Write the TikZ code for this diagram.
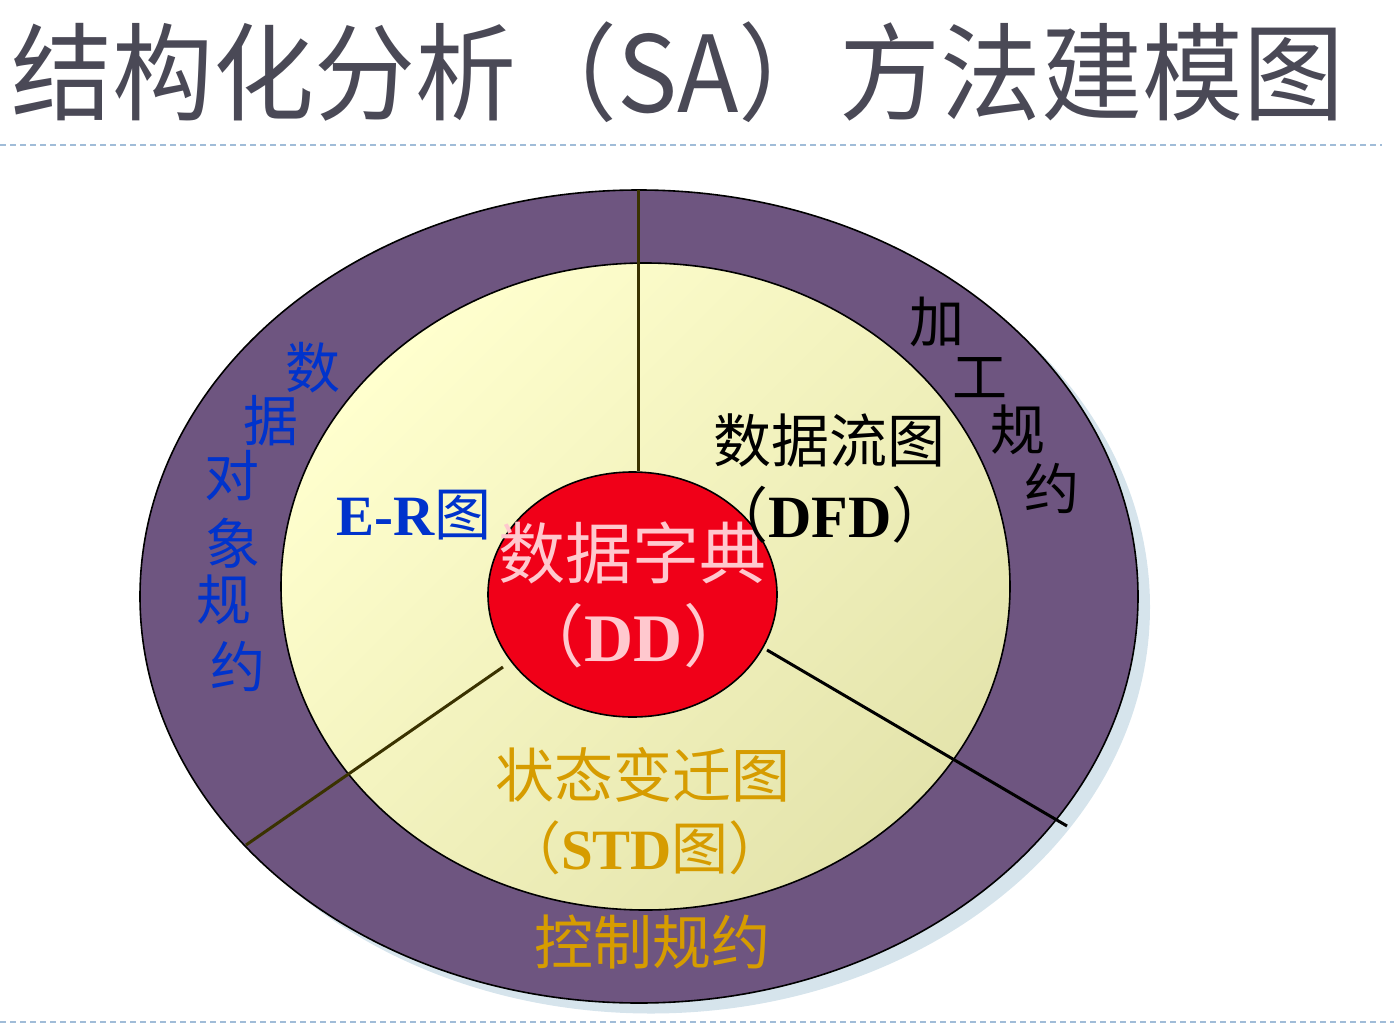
\documentclass[tikz,border=0pt]{standalone}
\usepackage{fontspec}
\usetikzlibrary{shapes.geometric}
\newfontfamily\cjk{Noto Sans CJK SC}
\newfontfamily\tnr{Liberation Serif}
\definecolor{band}{RGB}{110,85,128}
\definecolor{bandshadow}{RGB}{214,228,236}
\definecolor{innerA}{RGB}{255,255,206}
\definecolor{innerB}{RGB}{228,228,172}
\definecolor{ddred}{RGB}{240,0,24}
\definecolor{ddpink}{RGB}{255,200,206}
\definecolor{erblue}{RGB}{0,51,204}
\definecolor{gold}{RGB}{214,156,0}
\definecolor{titlegray}{RGB}{74,73,86}
\definecolor{dashblue}{RGB}{160,188,216}
\definecolor{olive}{RGB}{58,50,0}
\newcommand\lpar{\kern-0.5em（}
\newcommand\rpar{）\kern-0.5em}
\tikzset{
  ring/.style={ellipse, draw=black, line width=1.6pt, inner sep=0pt},
  cjkt/.style={font=\cjk\fontsize{#1}{#1}\selectfont, inner sep=0pt},
  sepline/.style={line width=3pt},
  dashrule/.style={draw=dashblue, line width=1.6pt, dash pattern=on 6pt off 4pt}
}
\begin{document}
\begin{tikzpicture}[x=1pt,y=-1pt]
\useasboundingbox (0,0) rectangle (1394,1030);
% title
\node[cjkt=101, text=titlegray, yscale=1.05] (title) at (678,72) {结构化分析（SA）方法建模图};
% dashed rules
\coordinate (r1a) at (0,145); \coordinate (r1b) at (1382,145);
\coordinate (r2a) at (0,1022); \coordinate (r2b) at (1394,1022);
\draw[dashrule] (r1a) -- (r1b);
\draw[dashrule] (r2a) -- (r2b);
% rings
\node[ellipse, fill=bandshadow, inner sep=0pt, minimum width=998pt, minimum height=813pt] (outershadow) at (651,607) {};
\node[ring, fill=band, minimum width=998pt, minimum height=813pt] (outer) at (639,596.5) {};
\node[ring, top color=innerA, bottom color=innerB, shading angle=45, minimum width=729pt, minimum height=647pt] (inner) at (645.5,586.5) {};
% separators
\coordinate (s1a) at (638,190); \coordinate (s1b) at (638,471);
\coordinate (s2a) at (503,667); \coordinate (s2b) at (246,845);
\coordinate (s3a) at (767,650); \coordinate (s3b) at (1067,826);
\draw[sepline, draw=olive] (s1a) -- (s1b);
\draw[sepline, draw=olive] (s2a) -- (s2b);
\draw[sepline, draw=black] (s3a) -- (s3b);
% data dictionary
\node[ring, fill=ddred, minimum width=289pt, minimum height=245pt] (dd) at (632.5,594.5) {};
\node[cjkt=67, text=ddpink] (ddt1) at (632,553) {数据字典};
\node[cjkt=68, text=ddpink] (ddt2) at (634,636) {\lpar{\tnr\bfseries DD}\rpar};
% E-R
\node[font=\tnr\bfseries\fontsize{57}{57}\selectfont, text=erblue, inner sep=0pt] (er) at (414,515) {E-R{\mdseries\cjk 图}};
% DFD
\node[cjkt=58, text=black] (dfd1) at (829,441) {数据流图};
\node[cjkt=60, text=black] (dfd2) at (830,515) {\lpar{\tnr\bfseries DFD}\rpar};
% STD
\node[cjkt=59, text=gold] (std1) at (643,775) {状态变迁图};
\node[cjkt=57, text=gold] (std2) at (645,848) {\lpar{\tnr\bfseries STD}图\rpar};
% band texts: data object spec
\foreach \ch/\px/\py/\nm in {数/313/368/a1,据/271/421/a2,对/232/476/a3,象/233/543/a4,规/224/600/a5,约/238/667/a6}{
  \node[cjkt=55, text=erblue] (t\nm) at (\px,\py) {\ch};
}
% process spec
\foreach \ch/\px/\py/\nm in {加/937/322/b1,工/980/378/b2,规/1018/430/b3,约/1052/489/b4}{
  \node[cjkt=55, text=black] (t\nm) at (\px,\py) {\ch};
}
% control spec
\node[cjkt=59, text=gold] (ctrl) at (652,942) {控制规约};
\end{tikzpicture}
\end{document}
